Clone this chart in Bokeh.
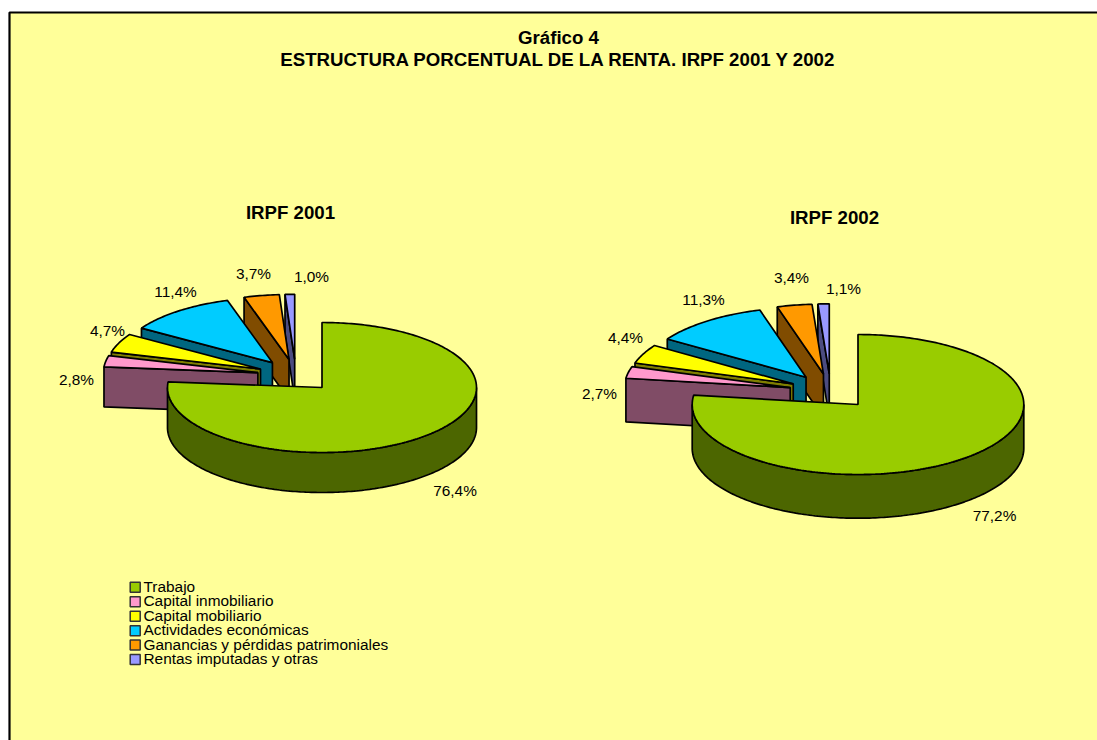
import numpy as np
from bokeh.plotting import figure
from bokeh.embed import file_html
from bokeh.resources import INLINE
from bokeh.core.properties import value

categories = ["Trabajo", "Capital inmobiliario", "Capital mobiliario",
              "Actividades económicas", "Ganancias y pérdidas patrimoniales",
              "Rentas imputadas y otras"]
values_2001 = [76.4, 2.8, 4.7, 11.4, 3.7, 1.0]
values_2002 = [77.2, 2.7, 4.4, 11.3, 3.4, 1.1]
labels_2001 = ["76,4%", "2,8%", "4,7%", "11,4%", "3,7%", "1,0%"]
labels_2002 = ["77,2%", "2,7%", "4,4%", "11,3%", "3,4%", "1,1%"]
top_colors = ["#99CC00", "#FF99CC", "#FFFF00", "#00CCFF", "#FF9900", "#9999FF"]
side_colors = ["#4C6600", "#804C66", "#7F7F00", "#006680", "#804C00", "#4C4C80"]

FONT = value("Liberation Sans")
W, H = 1097, 740
p = figure(width=W, height=H, x_range=(0, W), y_range=(H, 0),
           toolbar_location=None, output_backend="svg", min_border=0,
           background_fill_color="white", border_fill_color="white", outline_line_color=None)
p.xaxis.visible = False
p.yaxis.visible = False
p.xgrid.visible = False
p.ygrid.visible = False

# chart area frame
p.patch([9, 1110, 1110, 9], [12, 12, 750, 750], fill_color="#FFFF99",
        line_color="black", line_width=2.2)


def ell(cx, cy, rx, ry, deg):
    t = np.radians(deg)
    return cx + rx * np.sin(t), cy - ry * np.cos(t)


def draw_pie(vals, labels, label_pos, apex_main, rx, ry, depth, explode=0.25):
    vals = np.array(vals, dtype=float)
    fr = vals / vals.sum() * 360
    starts = np.concatenate([[0], np.cumsum(fr)[:-1]])
    ends = starts + fr
    mid0 = (starts[0] + ends[0]) / 2
    cx0 = apex_main[0] - explode * rx * np.sin(np.radians(mid0))
    cy0 = apex_main[1] + explode * ry * np.cos(np.radians(mid0))
    order = list(range(1, len(vals)))[::-1] + [0]
    for i in order:
        mid = (starts[i] + ends[i]) / 2
        cx, cy = ell(cx0, cy0, explode * rx, explode * ry, mid)
        deg = np.arange(starts[i], ends[i] + 0.5, 1.0)
        deg[-1] = ends[i]
        ax, ay = ell(cx, cy, rx, ry, deg)
        top_x = np.concatenate([[cx], ax])
        top_y = np.concatenate([[cy], ay])
        if i == 0:
            # outer rim facing the viewer
            d2 = np.arange(90, 270.5, 1.0)
            rx1, ry1 = ell(cx, cy, rx, ry, d2)
            p.patch(np.concatenate([rx1, rx1[::-1]]),
                    np.concatenate([ry1, ry1[::-1] + depth]),
                    fill_color=side_colors[i], line_color="black", line_width=1.7)
        else:
            # radial wall at the slice's starting edge
            sx, sy = ell(cx, cy, rx, ry, starts[i])
            p.patch([cx, sx, sx, cx], [cy, sy, sy + depth, cy + depth],
                    fill_color=side_colors[i], line_color="black", line_width=1.7)
        p.patch(top_x, top_y, fill_color=top_colors[i], line_color="black", line_width=1.7)
    p.text(x=[q[0] for q in label_pos], y=[q[1] for q in label_pos], text=labels,
           text_font=FONT, text_font_size="15.4px", text_color="#000000",
           text_align="center", text_baseline="middle")


label_xy_2001 = [(454.5, 489.5), (76, 378.5), (107, 329.5), (175, 290.5), (253, 272.5), (311, 275.5)]
label_xy_2002 = [(994, 514.5), (599, 392.5), (625, 336.5), (703, 298.5), (791, 276.5), (843, 287.5)]

draw_pie(values_2001, labels_2001, label_xy_2001, (321.5, 387), 154.5, 65, 40)
draw_pie(values_2002, labels_2002, label_xy_2002, (857.5, 404), 165.8, 70, 43.7)

# titles
p.text(x=[558, 558, 290, 834], y=[36.5, 59, 212, 217],
       text=["Gráfico 4", "ESTRUCTURA PORCENTUAL DE LA RENTA. IRPF 2001 Y 2002", "IRPF 2001", "IRPF 2002"],
       text_font=FONT, text_font_style="bold", text_font_size="18.67px",
       text_align="center", text_baseline="middle", text_color="#000000")

# legend
for k, name in enumerate(categories):
    yy = 586.8 + k * 14.45
    p.rect(x=[134.7], y=[yy], width=10, height=10, fill_color=top_colors[k],
           line_color="#333333", line_width=1.5)
    p.text(x=[143], y=[yy - 1], text=[name], text_font=FONT, text_font_size="15.4px",
           text_align="left", text_baseline="middle", text_color="#000000")

open("out.html", "w").write(file_html(p, INLINE))
